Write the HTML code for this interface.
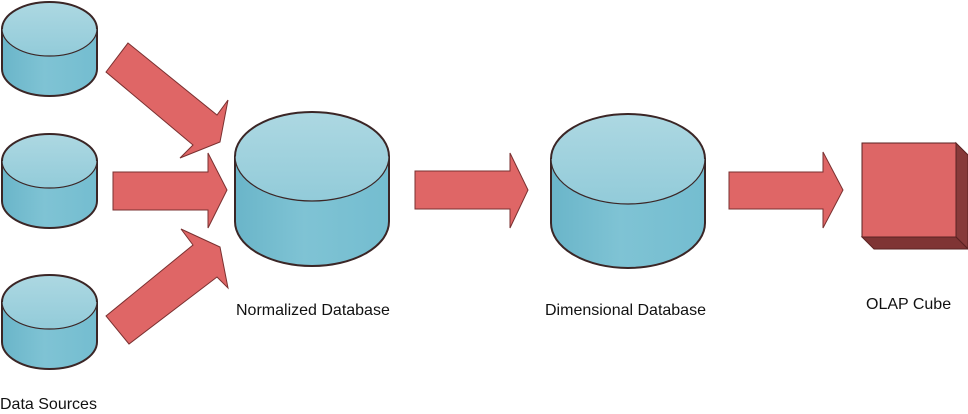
<!DOCTYPE html>
<html>
<head>
<meta charset="utf-8">
<style>
html,body{margin:0;padding:0;background:#fff;}
svg{display:block;}
text{font-family:"Liberation Sans",Arial,sans-serif;font-size:16px;fill:#111;}
</style>
</head>
<body>
<svg width="968" height="414" viewBox="0 0 968 414" xmlns="http://www.w3.org/2000/svg">
<defs>
  <linearGradient id="body" x1="0" y1="0" x2="1" y2="0">
    <stop offset="0" stop-color="#6ab5c9"/>
    <stop offset="0.45" stop-color="#7fc3d4"/>
    <stop offset="1" stop-color="#74bdd0"/>
  </linearGradient>
  <linearGradient id="top" x1="0" y1="0" x2="0" y2="1">
    <stop offset="0" stop-color="#add8e2"/>
    <stop offset="1" stop-color="#92cbd9"/>
  </linearGradient>
</defs>

<!-- Cylinders -->
<g stroke="#3b2626" stroke-linejoin="round">
  <!-- DB1 -->
  <path d="M2,29 L2,69 A47.5,27 0 0 0 97,69 L97,29 Z" fill="url(#body)" stroke-width="2"/>
  <ellipse cx="49.5" cy="29" rx="47.5" ry="27" fill="url(#top)" stroke-width="1.2"/>
  <path d="M2,29 A47.5,27 0 0 1 97,29" fill="none" stroke-width="2"/>
  <!-- DB2 -->
  <path d="M2,161 L2,201 A47.5,27 0 0 0 97,201 L97,161 Z" fill="url(#body)" stroke-width="2"/>
  <ellipse cx="49.5" cy="161" rx="47.5" ry="27" fill="url(#top)" stroke-width="1.2"/>
  <path d="M2,161 A47.5,27 0 0 1 97,161" fill="none" stroke-width="2"/>
  <!-- DB3 -->
  <path d="M2,302 L2,342 A47.5,27 0 0 0 97,342 L97,302 Z" fill="url(#body)" stroke-width="2"/>
  <ellipse cx="49.5" cy="302" rx="47.5" ry="27" fill="url(#top)" stroke-width="1.2"/>
  <path d="M2,302 A47.5,27 0 0 1 97,302" fill="none" stroke-width="2"/>
  <!-- Normalized -->
  <path d="M235,156.5 L235,221.5 A77,44.5 0 0 0 389,221.5 L389,156.5 Z" fill="url(#body)" stroke-width="2"/>
  <ellipse cx="312" cy="156.5" rx="77" ry="44.5" fill="url(#top)" stroke-width="1.2"/>
  <path d="M235,156.5 A77,44.5 0 0 1 389,156.5" fill="none" stroke-width="2"/>
  <!-- Dimensional -->
  <path d="M551,159 L551,223 A77,45 0 0 0 705,223 L705,159 Z" fill="url(#body)" stroke-width="2"/>
  <ellipse cx="628" cy="159" rx="77" ry="45" fill="url(#top)" stroke-width="1.2"/>
  <path d="M551,159 A77,45 0 0 1 705,159" fill="none" stroke-width="2"/>
</g>

<!-- Arrows -->
<g fill="#df6666" stroke="#7a3030" stroke-width="1" stroke-linejoin="miter">
  <polygon points="128,43 217,115 228,100 220,142 180,158 193,145 106,72"/>
  <polygon points="113,172 208,172 208,153 227,190 208,228 208,210 113,210"/>
  <polygon points="106,316 193,245 181,229 220,247 228,288 217,277 129,344"/>
  <polygon points="415,171 510,171 510,153 528,190 510,228 510,209 415,209"/>
  <polygon points="729,172 823,172 823,152 843,190 823,228 823,209 729,209"/>
</g>

<!-- Cube -->
<g stroke="#5a2222" stroke-width="1" stroke-linejoin="miter">
  <polygon points="956,143 968,155 968,249 956,237" fill="#873a3a"/>
  <polygon points="862,237 956,237 968,249 874,249" fill="#7f3434"/>
  <rect x="862" y="143" width="94" height="94" fill="#dd6666"/>
</g>

<!-- Labels -->
<text x="236" y="315">Normalized Database</text>
<text x="545" y="315">Dimensional Database</text>
<text x="866" y="309">OLAP Cube</text>
<text x="0" y="409">Data Sources</text>
</svg>
</body>
</html>
